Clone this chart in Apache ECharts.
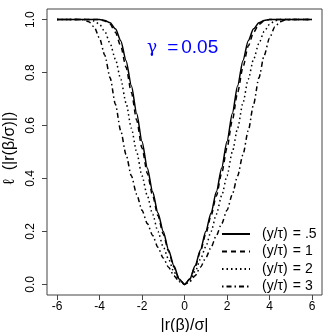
<!DOCTYPE html>
<html>
<head>
<meta charset="utf-8">
<script src="https://cdn.jsdelivr.net/npm/echarts@6/dist/echarts.min.js"></script>
<style>
  html, body { margin: 0; padding: 0; background: #fff; }
  #chart { width: 332px; height: 332px; }
</style>
</head>
<body>
<div id="chart"></div>
<script>
// |r(beta)/sigma| grid, -6 .. 6 step 0.25
const rVals = [
  -6, -5.75, -5.5, -5.25, -5, -4.75, -4.5, -4.25, -4, -3.75, -3.5, -3.25, -3, -2.75, -2.5, -2.25,
  -2, -1.75, -1.5, -1.25, -1, -0.75, -0.5, -0.25, 0, 0.25, 0.5, 0.75, 1, 1.25, 1.5, 1.75,
  2, 2.25, 2.5, 2.75, 3, 3.25, 3.5, 3.75, 4, 4.25, 4.5, 4.75, 5, 5.25, 5.5, 5.75, 6
]
// (y/tau) = .5
const lossHalf = [
  1, 1, 1, 1, 1, 1, 1, 1, 1, 0.997, 0.988, 0.965, 0.92, 0.845, 0.75, 0.645,
  0.54, 0.44, 0.35, 0.27, 0.2, 0.13, 0.07, 0.02, 0, 0.02, 0.07, 0.13, 0.2, 0.27, 0.35, 0.44,
  0.54, 0.645, 0.75, 0.845, 0.92, 0.965, 0.988, 0.997, 1, 1, 1, 1, 1, 1, 1, 1, 1
]
// (y/tau) = 1
const lossOne = [
  1, 1, 1, 1, 1, 1, 1, 1, 1, 0.995, 0.982, 0.952, 0.9, 0.82, 0.725, 0.62,
  0.515, 0.42, 0.335, 0.26, 0.19, 0.125, 0.066, 0.02, 0, 0.02, 0.066, 0.125, 0.19, 0.26, 0.335, 0.42,
  0.515, 0.62, 0.725, 0.82, 0.9, 0.952, 0.982, 0.995, 1, 1, 1, 1, 1, 1, 1, 1, 1
]
// (y/tau) = 2
const lossTwo = [
  1, 1, 1, 1, 1, 1, 1, 0.995, 0.982, 0.955, 0.91, 0.85, 0.775, 0.685, 0.59, 0.5,
  0.41, 0.335, 0.265, 0.2, 0.142, 0.095, 0.048, 0.014, 0, 0.014, 0.048, 0.095, 0.142, 0.2, 0.265, 0.335,
  0.41, 0.5, 0.59, 0.685, 0.775, 0.85, 0.91, 0.955, 0.982, 0.995, 1, 1, 1, 1, 1, 1, 1
]
// (y/tau) = 3
const lossThree = [
  1, 1, 1, 1, 1, 0.999, 0.992, 0.972, 0.93, 0.865, 0.78, 0.68, 0.58, 0.49, 0.41, 0.34,
  0.28, 0.23, 0.185, 0.14, 0.1, 0.065, 0.033, 0.01, 0, 0.01, 0.033, 0.065, 0.1, 0.14, 0.185, 0.23,
  0.28, 0.34, 0.41, 0.49, 0.58, 0.68, 0.78, 0.865, 0.93, 0.972, 0.992, 0.999, 1, 1, 1, 1, 1
]
const seriesNames = ['(y/\u03c4) = .5', '(y/\u03c4) = 1', '(y/\u03c4) = 2', '(y/\u03c4) = 3']
const ratioLabels = ['.5', '1', '2', '3']
const xTicks = [-6, -4, -2, 0, 2, 4, 6]
const yTicks = [0, 0.2, 0.4, 0.6, 0.8, 1]

let chart = echarts.init(document.getElementById('chart'), null, {renderer: 'canvas'})

// pair the x grid with each curve
function pairs(ys) {
  return rVals.map((x, i) => [x, ys[i]])
}

let lineTypes = ['solid', [5, 4], [1.5, 3], [1.5, 3, 5, 3]]
let curves = [lossHalf, lossOne, lossTwo, lossThree]

let option = {
  animation: false,
  backgroundColor: '#fff',
  textStyle: {fontFamily: 'Liberation Sans'},
  title: {
    text: '{g|\u03b3}{e|=}{n|0.05}',
    left: 147,
    top: 38,
    padding: 0,
    textStyle: {
      fontWeight: 'normal',
      rich: {
        g: {fontSize: 17, color: '#0000ff', fontWeight: 'normal', fontFamily: 'DejaVu Serif'},
        e: {fontSize: 19, color: '#0000ff', fontWeight: 'normal', padding: [0, 3, 0, 10]},
        n: {fontSize: 19, color: '#0000ff', fontWeight: 'normal'}
      }
    }
  },
  legend: {
    orient: 'vertical',
    left: 221,
    top: 227,
    itemWidth: 28,
    itemHeight: 14,
    itemGap: 3.5,
    padding: 0,
    itemStyle: {opacity: 0},
    textStyle: {
      fontSize: 14, color: '#000', lineHeight: 14, padding: [0, 0, 0, 7],
      rich: {
        a: {fontSize: 14, color: '#000'},
        b: {fontSize: 14, color: '#000', padding: [0, 4, 0, 5]}
      }
    },
    formatter: name => '{a|(y/\u03c4)}{b|=}{a|' + ratioLabels[seriesNames.indexOf(name)] + '}',
    data: seriesNames
  },
  grid: {
    left: 47, top: 9, width: 275, height: 286,
    show: true, borderColor: '#444', borderWidth: 1,
    outerBoundsMode: 'none'
  },
  xAxis: {
    type: 'value',
    min: -6.47,
    max: 6.47,
    name: '|r(\u03b2)/\u03c3|',
    nameLocation: 'middle',
    nameGap: 17,
    nameTextStyle: {fontSize: 16, color: '#000'},
    axisLine: {show: false, onZero: false},
    axisTick: {show: true, inside: false, length: 5, lineStyle: {color: '#444'}, customValues: xTicks},
    axisLabel: {fontSize: 12, color: '#000', margin: 6, customValues: xTicks},
    splitLine: {show: false}
  },
  yAxis: {
    type: 'value',
    min: -0.04,
    max: 1.04,
    name: '\u2113  (|r(\u03b2/\u03c3)|)',
    nameLocation: 'middle',
    nameGap: 29,
    nameTextStyle: {fontSize: 16, color: '#000', padding: [0, 0, 0, 8]},
    axisLine: {show: false, onZero: false},
    axisTick: {show: true, inside: false, length: 5, lineStyle: {color: '#444'}, customValues: yTicks},
    axisLabel: {
      fontSize: 12, color: '#000', margin: 10, rotate: 90,
      customValues: yTicks,
      formatter: v => v.toFixed(1)
    },
    splitLine: {show: false}
  },
  series: curves.map((ys, i) => ({
    name: seriesNames[i],
    type: 'line',
    data: pairs(ys),
    showSymbol: false,
    symbol: 'none',
    smooth: 0.25,
    smoothMonotone: 'x',
    z: 10 - i,
    lineStyle: {color: '#000', width: 1.5, type: lineTypes[i]},
    itemStyle: {color: '#000', opacity: 0}
  }))
}

chart.setOption(option)
</script>
</body>
</html>
